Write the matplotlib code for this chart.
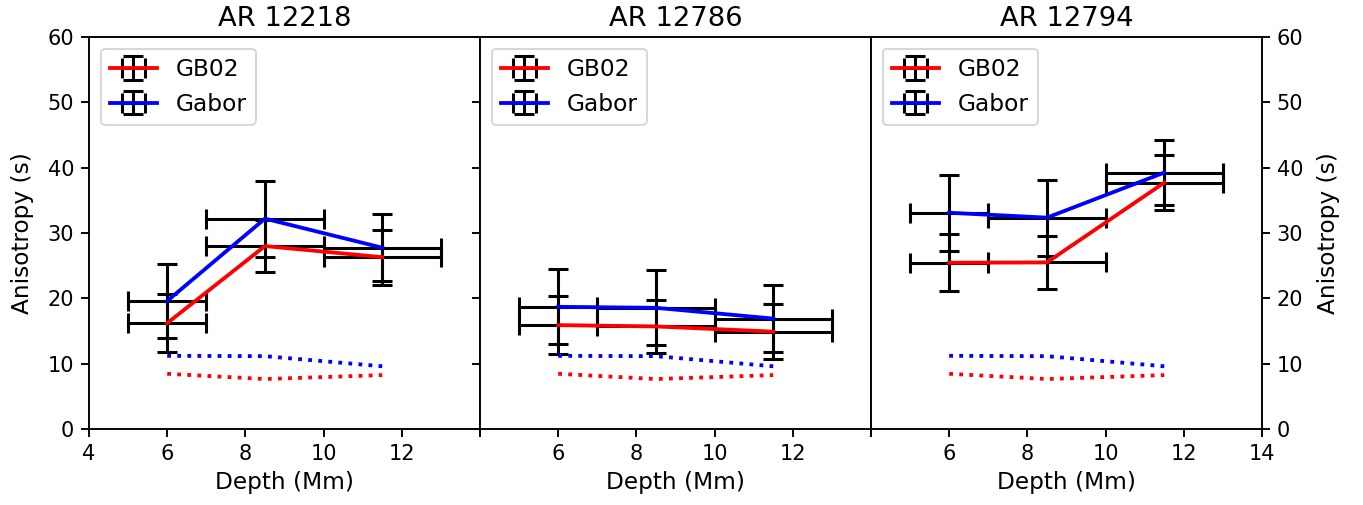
import matplotlib
matplotlib.use('Agg')
import matplotlib.pyplot as plt
import numpy as np

# Depth bins (Mm) and their half-widths
depth = [6.0, 8.5, 11.5]
depth_err = [1.0, 1.5, 1.5]

regions = ['AR 12218', 'AR 12786', 'AR 12794']

# GB02 anisotropy (s) and errors, per region
gb02 = [[16.2, 28.0, 26.3],
        [15.9, 15.7, 14.9],
        [25.45, 25.5, 37.7]]
gb02_err = [[4.4, 4.0, 4.2],
            [4.4, 4.0, 4.2],
            [4.4, 4.0, 4.2]]

# Gabor anisotropy (s) and errors, per region
gabor = [[19.6, 32.2, 27.75],
         [18.7, 18.55, 16.9],
         [33.1, 32.35, 39.25]]
gabor_err = [[5.7, 5.8, 5.1],
             [5.75, 5.75, 5.1],
             [5.8, 5.8, 5.0]]

# noise levels (dotted)
noise_gb02 = [8.45, 7.65, 8.25]
noise_gabor = [11.2, 11.15, 9.6]

xticks = [4, 6, 8, 10, 12, 14]

plt.rcParams['axes.linewidth'] = 1.0
plt.rcParams['xtick.major.size'] = 4.2
plt.rcParams['ytick.major.size'] = 4.2
plt.rcParams['xtick.major.width'] = 1.0
plt.rcParams['ytick.major.width'] = 1.0
plt.rcParams['xtick.labelsize'] = 11
plt.rcParams['ytick.labelsize'] = 11

dpi = 137
fig, axes = plt.subplots(1, 3, figsize=(1363 / dpi, 505 / dpi), dpi=dpi, sharey=True)
fig.subplots_adjust(left=89 / 1363, right=1262 / 1363, bottom=1 - 429 / 505,
                    top=1 - 37 / 505, wspace=0)

for i, ax in enumerate(axes):
    ax.errorbar(depth, gb02[i], xerr=depth_err, yerr=gb02_err[i], color='red',
                lw=2, ecolor='k', elinewidth=1.6, capsize=5.5, capthick=1.6,
                label='GB02')
    ax.errorbar(depth, gabor[i], xerr=depth_err, yerr=gabor_err[i], color='blue',
                lw=2, ecolor='k', elinewidth=1.6, capsize=5.5, capthick=1.6,
                label='Gabor')
    ax.plot(depth, noise_gabor, ':', color='blue', lw=2)
    ax.plot(depth, noise_gb02, ':', color='red', lw=2)
    ax.set_xlim(4, 14)
    ax.set_ylim(0, 60)
    ax.set_xticks(xticks)
    labels = [str(t) for t in xticks]
    if i != 0:
        labels[0] = ''
    if i != 2:
        labels[-1] = ''
    ax.set_xticklabels(labels)
    ax.set_title(regions[i], fontsize=14.4)
    ax.set_xlabel('Depth (Mm)', fontsize=12.2)
    ax.legend(loc='upper left', fontsize=12.3)

axes[0].set_ylabel('Anisotropy (s)', fontsize=12.2, labelpad=7)
axes[1].tick_params(axis='y', labelleft=False)
axes[2].yaxis.tick_right()
axes[2].yaxis.set_label_position('right')
axes[2].set_ylabel('Anisotropy (s)', fontsize=12.2, labelpad=7)
axes[2].tick_params(axis='y', labelright=True)

fig.savefig('out.png', dpi=dpi)
